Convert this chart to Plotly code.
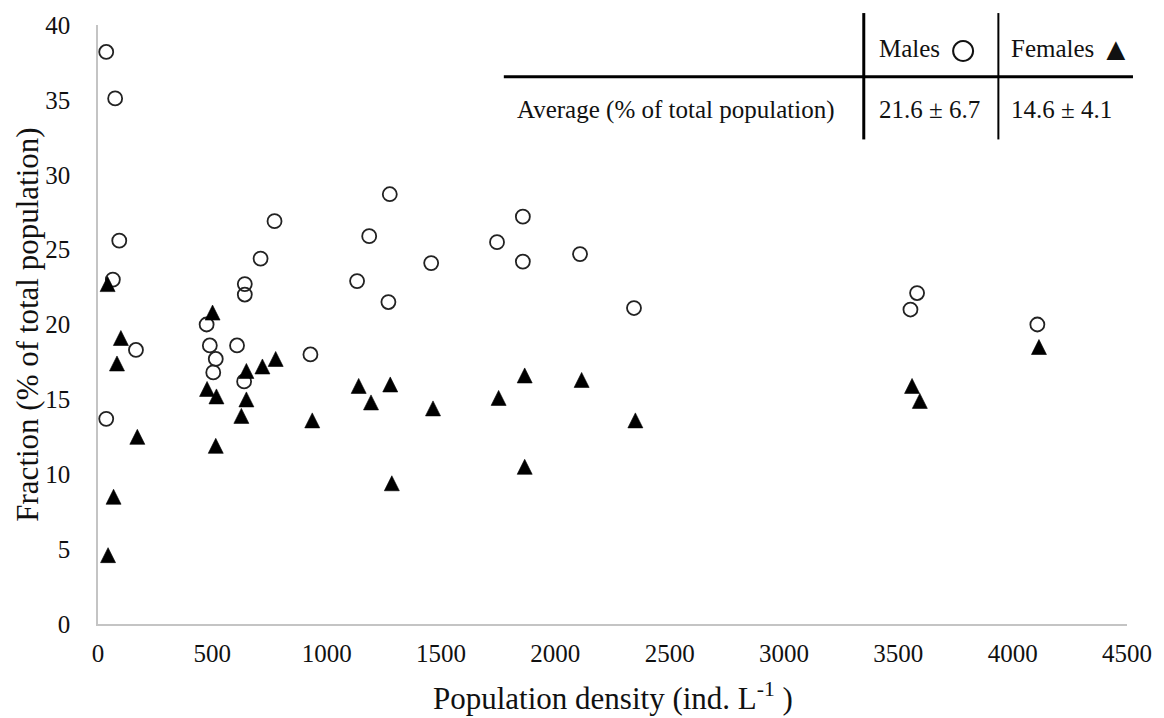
import plotly.graph_objects as go

# ---------------- data ----------------
male_density = [36, 75, 93, 65, 166, 36, 475, 489, 608, 515, 504, 639, 642, 642,
                711, 772, 929, 1133, 1186, 1270, 1276, 1457, 1745, 1858, 1858,
                2108, 2344, 3553, 3582, 4108]
male_fraction = [38.2, 35.1, 25.6, 23.0, 18.3, 13.7, 20.0, 18.6, 18.6, 17.7, 16.8,
                 16.2, 22.7, 22.0, 24.4, 26.9, 18.0, 22.9, 25.9, 21.5, 28.7, 24.1,
                 25.5, 27.2, 24.2, 24.7, 21.1, 21.0, 22.1, 20.0]

female_density = [42, 501, 100, 83, 777, 719, 649, 477, 518, 649, 627, 172, 515,
                  68, 44, 937, 1140, 1278, 1194, 1285, 1465, 1752, 1866, 1866,
                  2115, 2350, 3560, 3594, 4115]
female_fraction = [22.7, 20.8, 19.1, 17.4, 17.7, 17.2, 16.9, 15.7, 15.2, 15.0, 13.9,
                   12.5, 11.9, 8.5, 4.6, 13.6, 15.9, 16.0, 14.8, 9.4, 14.4, 15.1,
                   16.6, 10.5, 16.3, 13.6, 15.9, 14.9, 18.5]

x_ticks = [0, 500, 1000, 1500, 2000, 2500, 3000, 3500, 4000, 4500]
y_ticks = [0, 5, 10, 15, 20, 25, 30, 35, 40]

table_header = ["Males", "Females"]
table_row_label = "Average (% of total population)"
table_values = ["21.6 \u00b1 6.7", "14.6 \u00b1 4.1"]

x_title = "Population density (ind. L<sup>-1</sup> )"
y_title = "Fraction (% of total population)"

# ---------------- layout geometry ----------------
W, H = 1164, 718
L, R, T, B = 98, 34, 22, 94
PW, PH = W - L - R, H - T - B

def px(x):
    return (x - L) / PW

def py(y):
    return 1 - (y - T) / PH

FONT = "Liberation Serif"
TXT = "#111111"
TRI_SIZE = 15
tri_shift = (TRI_SIZE / 2) * 40 / PH   # centre arrow-up glyph on the value

fig = go.Figure()

fig.add_trace(go.Scatter(
    x=male_density, y=male_fraction, mode="markers", name="Males",
    marker=dict(symbol="circle-open", size=14, color="#222222",
                line=dict(color="#222222", width=1.8)),
    showlegend=False,
))

fig.add_trace(go.Scatter(
    x=female_density, y=female_fraction, mode="markers", name="Females",
    yaxis="y2",
    marker=dict(symbol="arrow-up", size=TRI_SIZE, color="#000000",
                line=dict(color="#000000", width=0.6)),
    showlegend=False,
))

axis_line = "#c4c4c4"
fig.update_layout(
    width=W, height=H,
    margin=dict(l=L, r=R, t=T, b=B, pad=0),
    paper_bgcolor="white", plot_bgcolor="white",
    font=dict(family=FONT, color=TXT, size=25),
    xaxis=dict(range=[0, 4500], tickvals=x_ticks, showgrid=False, zeroline=False,
               showline=True, linecolor=axis_line, linewidth=1.6, ticks="",
               ticklabelstandoff=6, tickfont=dict(size=25, family=FONT, color=TXT)),
    yaxis=dict(range=[0, 40], tickvals=y_ticks, showgrid=False, zeroline=False,
               showline=True, linecolor=axis_line, linewidth=1.6, ticks="",
               ticklabelstandoff=21, tickfont=dict(size=25, family=FONT, color=TXT)),
    yaxis2=dict(range=[-tri_shift, 40 - tri_shift], overlaying="y", visible=False,
                showgrid=False, zeroline=False),
)

# axis titles
fig.add_annotation(text=x_title, xref="paper", yref="paper", x=0.5, y=py(697),
                   xanchor="center", yanchor="middle", showarrow=False,
                   font=dict(size=31, family=FONT, color=TXT))
fig.add_annotation(text=y_title, xref="paper", yref="paper", x=px(27), y=0.5,
                   xanchor="center", yanchor="middle", showarrow=False, textangle=-90,
                   font=dict(size=31, family=FONT, color=TXT))

# table lines
fig.add_shape(type="line", xref="paper", yref="paper",
              x0=px(505), x1=px(1136), y0=py(74), y1=py(74),
              line=dict(color="#000000", width=3))
fig.add_shape(type="line", xref="paper", yref="paper",
              x0=px(866), x1=px(866), y0=py(10), y1=py(137),
              line=dict(color="#000000", width=3))
fig.add_shape(type="line", xref="paper", yref="paper",
              x0=px(1001), x1=px(1001), y0=py(10), y1=py(137),
              line=dict(color="#000000", width=2))

def label(text, x, y, size=25, anchor="left"):
    fig.add_annotation(text=text, xref="paper", yref="paper", x=px(x), y=py(y),
                       xanchor=anchor, yanchor="middle", showarrow=False,
                       font=dict(size=size, family=FONT, color=TXT))

label(table_header[0], 879, 46)
label("\u25cb", 966, 46, size=50, anchor="center")
label(table_header[1], 1012, 46)
label("\u25b2", 1119, 46, size=32, anchor="center")
label(table_row_label, 516, 107)
label(table_values[0], 879, 107)
label(table_values[1], 1012, 107)

fig.write_html("out.html")
